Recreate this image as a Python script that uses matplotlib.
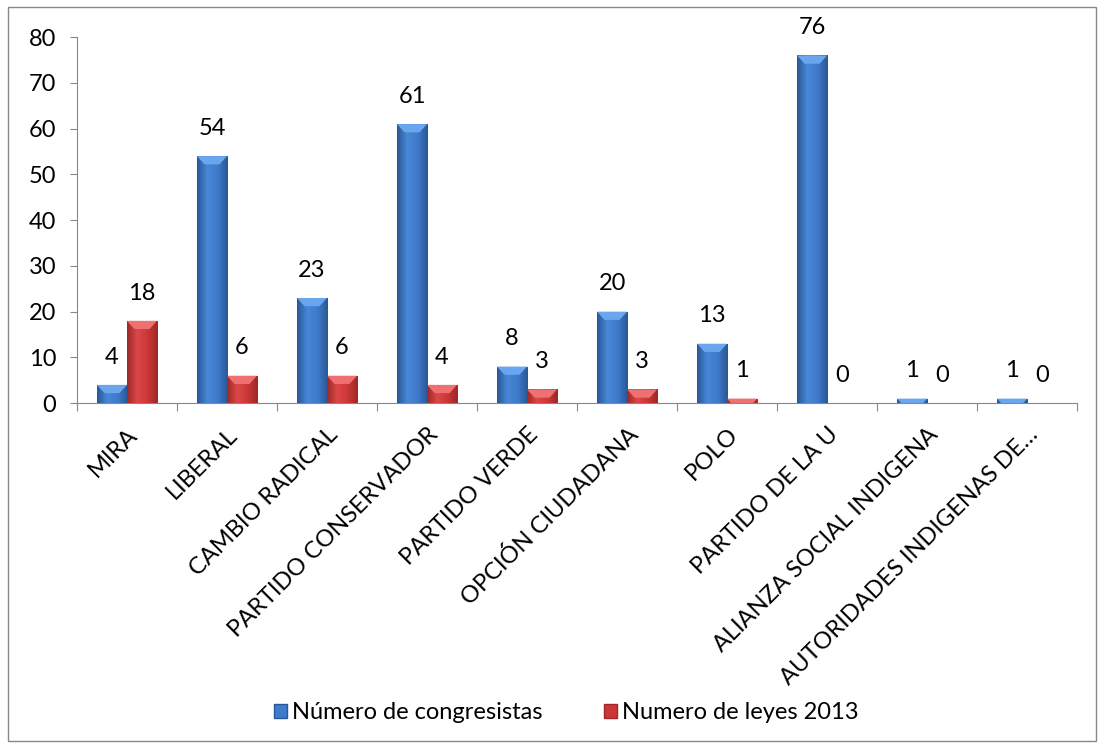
import matplotlib
matplotlib.use('Agg')
import matplotlib.pyplot as plt
import numpy as np
from matplotlib.colors import LinearSegmentedColormap
from matplotlib.patches import Rectangle, Polygon

plt.rcParams['font.family'] = ['Lato', 'DejaVu Sans']

partidos = ['MIRA', 'LIBERAL', 'CAMBIO RADICAL', 'PARTIDO CONSERVADOR',
            'PARTIDO VERDE', 'OPCIÓN CIUDADANA', 'POLO', 'PARTIDO DE LA U',
            'ALIANZA SOCIAL INDIGENA', 'AUTORIDADES INDIGENAS DE…']
congresistas = [4, 54, 23, 61, 8, 20, 13, 76, 1, 1]
leyes = [18, 6, 6, 4, 3, 3, 1, 0, 0, 0]

serie1 = 'Número de congresistas'
serie2 = 'Numero de leyes 2013'

# colores tipo Excel 2007 con degradado
azul = LinearSegmentedColormap.from_list('azul', ['#2a5796', '#4788d6', '#3f7bcb', '#2a5796'])
rojo = LinearSegmentedColormap.from_list('rojo', ['#9e2828', '#dc4848', '#cb3737', '#9e2828'])

fig = plt.figure(figsize=(11.04, 7.48), dpi=100)
ax = fig.add_axes([0.0697, 0.461, 0.906, 0.4893])

x = np.arange(len(partidos))
w = 0.3
grad = np.linspace(0, 1, 64).reshape(1, -1)


def barras(pos, vals, cmap, base, bisel):
    bars = ax.bar(pos, vals, w, color=base, edgecolor='none', zorder=2)
    for b in bars:
        alto = b.get_height()
        if alto <= 0:
            continue
        im = ax.imshow(grad, cmap=cmap, aspect='auto', zorder=3,
                       extent=[b.get_x(), b.get_x() + b.get_width(), 0, alto])
        im.set_clip_path(b)
        # bisel superior
        x0, x1 = b.get_x(), b.get_x() + b.get_width()
        d = min(1.8, alto)
        e = 0.25 * b.get_width() * d / 1.8
        ax.add_patch(Polygon([(x0, alto), (x1, alto), (x1 - e, alto - d), (x0 + e, alto - d)],
                             closed=True, facecolor=bisel, edgecolor='none', zorder=4))
    return bars


barras(x - w / 2, congresistas, azul, '#3f7bcb', '#6aa6ee')
barras(x + w / 2, leyes, rojo, '#cb3737', '#ee7070')

for xi, v in zip(x - w / 2, congresistas):
    ax.annotate(str(v), (xi, v), xytext=(0, 20), textcoords='offset points',
                ha='center', va='center', fontsize=17)
for xi, v in zip(x + w / 2, leyes):
    ax.annotate(str(v), (xi, v), xytext=(0, 20), textcoords='offset points',
                ha='center', va='center', fontsize=17)

ax.set_xlim(-0.5, len(partidos) - 0.5)
ax.set_ylim(0, 80)
ax.set_yticks(range(0, 81, 10))
ax.tick_params(axis='y', labelsize=17, length=5, color='#888888', pad=10)

ax.set_xticks(np.arange(-0.5, len(partidos), 1))
ax.set_xticklabels([])
ax.tick_params(axis='x', length=6, color='#888888')
for xi, lab in zip(x, partidos):
    ax.text(xi + 0.0, -4.5, lab, rotation=45, ha='right', va='top',
            rotation_mode='anchor', fontsize=17, transform=ax.transData)

for s in ['top', 'right']:
    ax.spines[s].set_visible(False)
for s in ['left', 'bottom']:
    ax.spines[s].set_color('#888888')
ax.set_facecolor('none')

h1 = Rectangle((0, 0), 1, 1, facecolor='#3f7bcb', edgecolor='#2a5796')
h2 = Rectangle((0, 0), 1, 1, facecolor='#cb3737', edgecolor='#9e2828')
fig.legend([h1, h2], [serie1, serie2], loc='center', bbox_to_anchor=(0.513, 0.047),
           ncol=2, frameon=False, fontsize=17, handlelength=0.55, handleheight=0.55,
           handletextpad=0.2, columnspacing=2.6)

fig.add_artist(Rectangle((0.007, 0.01), 0.986, 0.98, transform=fig.transFigure,
                         fill=False, edgecolor='#888888', linewidth=1))

fig.savefig('out.png', dpi=100)
